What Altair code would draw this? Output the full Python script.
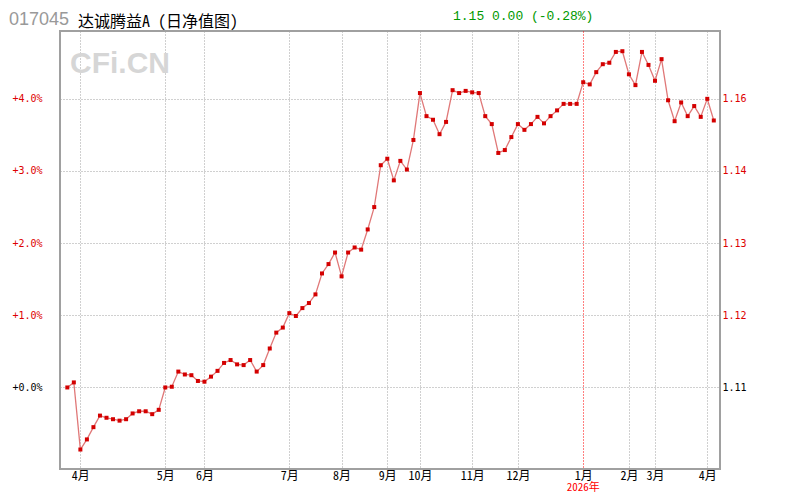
import json
import altair as alt
import pandas as pd

# ---- data ----
pct = [0.00, 0.07, -0.86, -0.72, -0.55, -0.39, -0.42, -0.44, -0.46, -0.44,
       -0.36, -0.33, -0.33, -0.37, -0.31, 0.00, 0.01, 0.22, 0.18, 0.17,
       0.09, 0.08, 0.15, 0.23, 0.34, 0.38, 0.32, 0.31, 0.38, 0.22,
       0.31, 0.54, 0.76, 0.83, 1.03, 0.99, 1.10, 1.17, 1.29, 1.58,
       1.71, 1.87, 1.54, 1.87, 1.94, 1.91, 2.19, 2.50, 3.08, 3.17,
       2.87, 3.14, 3.02, 3.43, 4.08, 3.76, 3.71, 3.51, 3.68, 4.12,
       4.08, 4.11, 4.09, 4.08, 3.76, 3.65, 3.25, 3.29, 3.47, 3.65,
       3.57, 3.65, 3.75, 3.66, 3.76, 3.84, 3.93, 3.93, 3.93, 4.23,
       4.20, 4.37, 4.48, 4.50, 4.65, 4.66, 4.34, 4.19, 4.65, 4.47,
       4.25, 4.55, 3.98, 3.69, 3.95, 3.76, 3.90, 3.75, 4.00, 3.70]
idx = list(range(len(pct)))

month_ticks = [2, 15, 21, 34, 42, 49, 54, 62, 69, 79, 86, 90, 98]
month_labels = ["4月", "5月", "6月", "7月", "8月", "9月", "10月", "11月", "12月",
                "1月", "2月", "3月", "4月"]
pct_ticks = [0, 1, 2, 3, 4]
nav_labels = ["1.11", "1.12", "1.13", "1.14", "1.16"]
year_tick = 79
year_label = "2026年"
title_code = "017045"
title_name = "达诚腾益A (日净值图)"
title_quote = "1.15 0.00 (-0.28%)"
watermark = "CFi.CN"

df = pd.DataFrame({"i": idx, "pct": pct})

W, H = 660, 438
xs = alt.Scale(domain=[-1.12, 99.95], nice=False, zero=False)
ys = alt.Scale(domain=[-1.13, 4.94], nice=False, zero=False)

month_expr = json.dumps({str(k): v for k, v in zip(month_ticks, month_labels)}, ensure_ascii=False) + "[datum.value]"
nav_expr = json.dumps({str(k): v for k, v in zip(pct_ticks, nav_labels)}) + "[datum.value]"

GRID = "#a0a0a0"
RED = "#dd0000"
CJK_MONO = "Noto Sans Mono CJK SC, Noto Sans CJK SC, sans-serif"

x_axis = alt.Axis(
    values=month_ticks, labelExpr=month_expr, grid=True,
    gridColor={"condition": {"test": f"datum.value == {year_tick}", "value": "#ff0000"}, "value": GRID},
    gridDash=[1, 2], ticks=False, domain=False, labelFont=CJK_MONO,
    labelFontSize=12, labelColor="black", labelPadding=1, title=None, labelFlush=False,
    labelOverlap=False,
)
y_left = alt.Axis(
    values=pct_ticks, labelExpr="'+' + format(datum.value, '.1f') + '%'", grid=True,
    gridDash=[1, 2], gridColor=GRID, ticks=False, domain=False,
    labelColor={"condition": {"test": "datum.value == 0", "value": "black"}, "value": RED},
    labelFont="DejaVu Sans Mono", labelFontSize=10, labelPadding=18, title=None,
)
y_right = alt.Axis(
    values=pct_ticks, labelExpr=nav_expr, orient="right", grid=False, ticks=False,
    domain=False,
    labelColor={"condition": {"test": "datum.value == 0", "value": "black"}, "value": RED},
    labelFont="DejaVu Sans Mono", labelFontSize=10, labelPadding=2, title=None,
)

X = alt.X("i:Q", scale=xs, axis=x_axis)

base = alt.Chart(df)
line = base.mark_line(color="#e07878", strokeWidth=1.3).encode(
    x=X, y=alt.Y("pct:Q", scale=ys, axis=y_left),
)
pts = base.mark_point(shape="square", filled=True, size=16, color="#d40000", opacity=1).encode(
    x=X, y=alt.Y("pct:Q", scale=ys, axis=y_right),
)


def txt(s, **kw):
    x = kw.pop("x")
    y = kw.pop("y")
    return alt.Chart(pd.DataFrame({"t": [s]})).mark_text(**kw).encode(
        text="t:N", x=alt.value(x), y=alt.value(y))


wm = txt(watermark, x=10, y=33, font="Liberation Sans", fontWeight="bold", fontSize=30,
         color="#d6d6d6", align="left", baseline="middle")
t_code = txt(title_code, x=-51, y=-6.5, font="Liberation Sans", fontSize=18,
             color="#999999", align="left", baseline="alphabetic")
t_name = txt(title_name, x=18, y=-4.2, font=CJK_MONO, fontSize=16,
             color="black", align="left", baseline="alphabetic")
t_quote = txt(title_quote, x=393, y=-11.5, font="Liberation Mono", fontSize=13,
              color="#009900", align="left", baseline="alphabetic")

year = alt.Chart(pd.DataFrame({"i": [year_tick], "t": [year_label]})).mark_text(
    font=CJK_MONO, fontSize=11, color="#ff0000", baseline="alphabetic"
).encode(x=X, y=alt.value(H + 21.5), text="t:N")

chart = alt.layer(wm, line, pts, year, t_code, t_name, t_quote).resolve_scale(
    y="independent"
).resolve_axis(y="independent").properties(
    width=W, height=H, autosize="none",
    padding={"left": 52, "top": 23, "right": 72, "bottom": 23},
    background="white",
).configure_view(stroke="#a0a0a0", strokeWidth=2)

chart.save("out.html", embed_options={"renderer": "svg", "actions": False})
